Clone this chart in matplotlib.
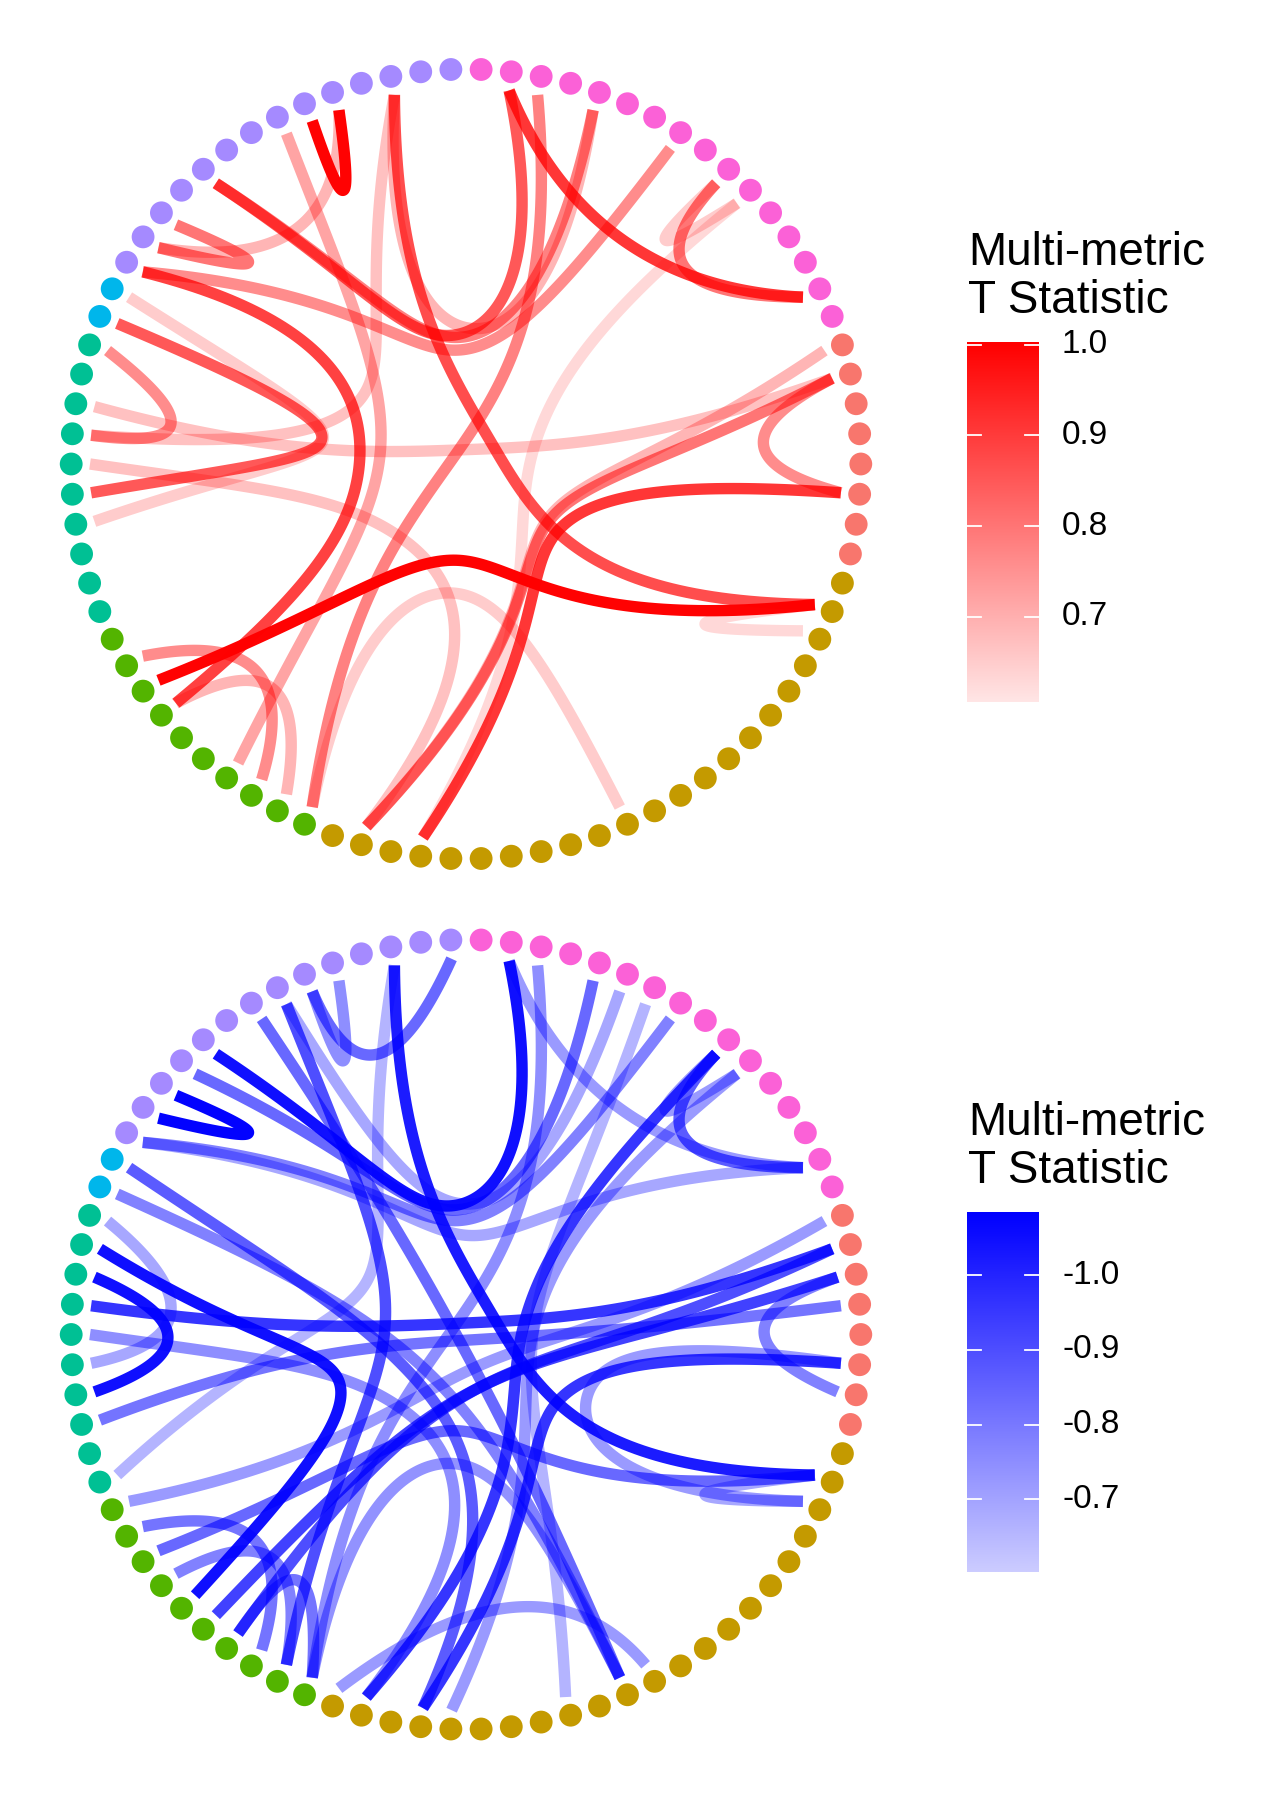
import numpy as np
import matplotlib
matplotlib.use("Agg")
import matplotlib.pyplot as plt
from matplotlib.transforms import blended_transform_factory

plt.rcParams["font.family"] = ["Liberation Sans", "DejaVu Sans"]

# node groups, clockwise from the top
group_names = ["pink", "salmon", "gold", "green", "teal", "cyan", "purple"]
group_sizes = [16, 8, 22, 10, 10, 2, 14]
group_colors = ["#FB61D7", "#F8766D", "#C49A00", "#53B400", "#00C094", "#00B6EB", "#A58AFF"]

# positive connections (top)
pos_from = [76, 53, 79, 68, 72, 1, 72, 79, 68, 9, 9, 10, 2, 70, 69,
            66, 67, 65, 63, 61, 79, 75, 54, 52, 17, 21, 17, 16, 26, 46]
pos_to = [77, 25, 25, 52, 1, 14, 4, 4, 7, 14, 10, 42, 46, 69, 77,
          60, 59, 62, 17, 44, 62, 49, 48, 47, 21, 42, 44, 44, 25, 35]
pos_value = [1.0, 1.0, 0.87, 0.89, 0.85, 0.91, 0.78, 0.69, 0.76, 0.80, 0.65, 0.63, 0.78, 0.80, 0.69,
             0.85, 0.65, 0.76, 0.67, 0.67, 0.67, 0.72, 0.76, 0.69, 0.76, 0.91, 0.80, 0.69, 0.63, 0.65]

# negative connections (bottom)
neg_from = [70, 72, 79, 81, 77, 63, 64, 62, 21, 1, 9, 10, 22, 26, 26, 53, 49, 45, 61, 68,
            6, 2, 74, 9, 10, 17, 18, 16, 19, 14, 4, 5, 66, 67, 75, 79, 54, 52, 65, 46]
neg_to = [69, 1, 25, 76, 76, 59, 51, 17, 42, 14, 14, 9, 18, 21, 25, 25, 46, 34, 44, 7,
          37, 46, 35, 44, 41, 49, 50, 55, 58, 68, 71, 75, 35, 42, 47, 56, 48, 47, 60, 35]
neg_value = [-1.08, -1.05, -1.02, -0.84, -0.75, -1.05, -1.05, -0.96, -0.96, -0.72, -0.87, -0.72, -0.78,
             -0.72, -0.69, -0.84, -0.81, -0.72, -0.75, -0.78, -0.66, -0.75, -0.84, -0.96, -0.72, -0.90,
             -0.93, -0.72, -0.81, -0.69, -0.84, -0.69, -0.78, -0.87, -0.90, -0.66, -0.81, -0.78, -0.69,
             -0.74]

pos_ticks = [1.0, 0.9, 0.8, 0.7]
neg_ticks = [-1.0, -0.9, -0.8, -0.7]
pos_limits = (0.606, 1.003)
neg_limits = (-1.0845, -0.603)

TENSION = 0.8
N_NODE = sum(group_sizes)
node_group = np.repeat(np.arange(len(group_sizes)), group_sizes)


def angle_at(idx):
    return np.deg2rad(90 - (idx + 0.5) * 360 / N_NODE)


theta = angle_at(np.arange(N_NODE))


def leaf_xy(i):
    return np.array([np.cos(theta[i]), np.sin(theta[i])])


def group_xy(g):
    idx = np.where(node_group == g)[0]
    a = angle_at(idx.mean())
    return 0.5 * np.array([np.cos(a), np.sin(a)])


def bspline(ctrl, n=120):
    m = len(ctrl)
    k = min(3, m - 1)
    knots = np.concatenate([np.zeros(k), np.linspace(0, 1, m - k + 1), np.ones(k)])
    t = np.linspace(0, 1, n)
    B = np.zeros((n, len(knots) - 1))
    for j in range(len(knots) - 1):
        B[:, j] = (knots[j] <= t) & (t < knots[j + 1])
    last = np.max(np.where(knots[:-1] < knots[1:])[0])
    B[t >= 1.0, :] = 0
    B[t >= 1.0, last] = 1
    for d in range(1, k + 1):
        Bn = np.zeros((n, len(knots) - 1 - d))
        for j in range(len(knots) - 1 - d):
            a = knots[j + d] - knots[j]
            b = knots[j + d + 1] - knots[j + 1]
            term = np.zeros(n)
            if a > 0:
                term += (t - knots[j]) / a * B[:, j]
            if b > 0:
                term += (knots[j + d + 1] - t) / b * B[:, j + 1]
            Bn[:, j] = term
        B = Bn
    return B @ ctrl


def edge_path(a, b):
    ga, gb = node_group[a], node_group[b]
    if ga == gb:
        pts = [leaf_xy(a), group_xy(ga), leaf_xy(b)]
    else:
        pts = [leaf_xy(a), group_xy(ga), np.zeros(2), group_xy(gb), leaf_xy(b)]
    pts = np.array(pts)
    n = len(pts) - 1
    for i in range(1, n):
        pts[i] = TENSION * pts[i] + (1 - TENSION) * (pts[0] + (pts[n] - pts[0]) * i / n)
    return bspline(pts)


def alpha_of(v, limits, a0):
    lo, hi = sorted(np.abs(limits))
    f = (abs(v) - lo) / (hi - lo)
    return float(np.clip(a0 + (1 - a0) * f, 0, 1))


PX = 376.0  # pixels per data unit
W, H = 1275, 1800
fig = plt.figure(figsize=(W / 100, H / 100), dpi=100)


def draw_circle(cy_px, e_from, e_to, e_val, base_rgb, limits, a0):
    ax = fig.add_axes([0, (H - cy_px - 464) / H, 932 / W, 928 / H])
    ax.set_xlim(-466 / PX, 466 / PX)
    ax.set_ylim(-464 / PX, 464 / PX)
    ax.axis("off")
    order = np.argsort(np.abs(e_val))
    for k in order:
        xy = edge_path(e_from[k], e_to[k])
        al = alpha_of(e_val[k], limits, a0)
        ax.plot(xy[:, 0], xy[:, 1], color=base_rgb + (al,), lw=8.2,
                solid_capstyle="butt", solid_joinstyle="round")
    cols = [group_colors[g] for g in node_group]
    ax.scatter(1.05 * np.cos(theta), 1.05 * np.sin(theta), s=270, c=cols,
               linewidths=0, zorder=5)


def draw_legend(top_px, base_rgb, limits, ticks, labels, a0, reverse):
    fig.text(968 / W, 1 - (top_px + 265) / H, "Multi-metric", fontsize=33, va="baseline")
    fig.text(968 / W, 1 - (top_px + 313) / H, "T Statistic", fontsize=33, va="baseline")
    cax = fig.add_axes([967 / W, 1 - (top_px + 702) / H, 72 / W, 360 / H])
    lo, hi = limits
    vals = np.linspace(lo, hi, 256)
    grad = np.zeros((256, 1, 3))
    for i, v in enumerate(vals):
        al = alpha_of(v, limits, a0)
        grad[i, 0, :] = [1 - al * (1 - c) for c in base_rgb]
    cax.imshow(grad, extent=[0, 1, lo, hi], origin="lower", aspect="auto",
               interpolation="bilinear")
    cax.set_xlim(0, 1)
    if reverse:
        cax.set_ylim(hi, lo)
    else:
        cax.set_ylim(lo, hi)
    cax.axis("off")
    tr = blended_transform_factory(cax.transAxes, cax.transData)
    for t, lab in zip(ticks, labels):
        cax.plot([0, 0.2], [t, t], color="white", lw=1.3, transform=tr)
        cax.plot([0.8, 1.0], [t, t], color="white", lw=1.3, transform=tr)
        cax.text(1 + 23 / 72, t, lab, transform=tr, fontsize=24, va="center", ha="left")


RED = (1.0, 0.0, 0.0)
BLUE = (0.0, 0.0, 1.0)

draw_circle(464, pos_from, pos_to, pos_value, RED, pos_limits, 0.1)
draw_circle(1334.5, neg_from, neg_to, neg_value, BLUE, neg_limits, 0.2)

draw_legend(0, RED, pos_limits, pos_ticks, ["1.0", "0.9", "0.8", "0.7"], 0.1, False)
draw_legend(870, BLUE, neg_limits, neg_ticks, ["-1.0", "-0.9", "-0.8", "-0.7"], 0.2, True)

fig.savefig("out.png", dpi=100, facecolor="white")
